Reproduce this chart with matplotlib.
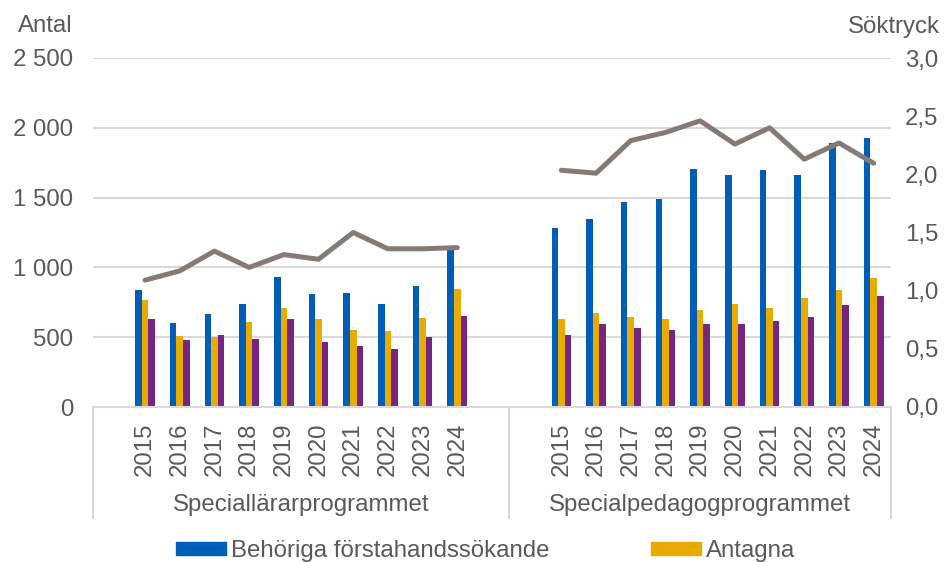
import numpy as np
import matplotlib.pyplot as plt
from matplotlib.patches import Patch

plt.rcParams['font.family'] = ['Liberation Sans', 'DejaVu Sans']

years = ['2015', '2016', '2017', '2018', '2019', '2020', '2021', '2022', '2023', '2024']
groups = ['Speciallärarprogrammet', 'Specialpedagogprogrammet']

# Speciallärarprogrammet
sl_behoriga = [841, 600, 669, 736, 931, 807, 819, 740, 867, 1125]
sl_antagna = [769, 512, 500, 612, 710, 633, 548, 545, 640, 845]
sl_tredje = [631, 483, 519, 490, 631, 469, 436, 417, 498, 650]
sl_soktryck = [1.09, 1.17, 1.34, 1.20, 1.31, 1.27, 1.50, 1.36, 1.36, 1.37]

# Specialpedagogprogrammet
sp_behoriga = [1283, 1350, 1467, 1493, 1705, 1664, 1695, 1660, 1888, 1926]
sp_antagna = [628, 671, 643, 633, 695, 738, 707, 779, 836, 921]
sp_tredje = [514, 595, 564, 550, 593, 593, 614, 643, 729, 795]
sp_soktryck = [2.035, 2.01, 2.29, 2.36, 2.46, 2.26, 2.40, 2.13, 2.27, 2.095]

left_ticks = [0, 500, 1000, 1500, 2000, 2500]
left_labels = ['0', '500', '1 000', '1 500', '2 000', '2 500']
right_ticks = [0, 0.5, 1.0, 1.5, 2.0, 2.5, 3.0]
right_labels = ['0,0', '0,5', '1,0', '1,5', '2,0', '2,5', '3,0']

blue = '#005eb8'
yellow = '#eaab00'
purple = '#772583'
linec = '#857a77'
txt = '#595959'
gridc = '#d9d9d9'
fs = 17.3

# category slots: empty, 10 years, empty | empty, 10 years
x_left = np.arange(1, 11)
x_right = np.arange(13, 23)
x = np.concatenate([x_left, x_right])

fig = plt.figure(figsize=(9.47, 5.62), dpi=100)
ax = fig.add_axes([93 / 947, 155 / 562, 798 / 947, 349 / 562])
ax2 = ax.twinx()

w = 0.19
ax.bar(x - w, sl_behoriga + sp_behoriga, w, color=blue, zorder=2)
ax.bar(x, sl_antagna + sp_antagna, w, color=yellow, zorder=2)
ax.bar(x + w, sl_tredje + sp_tredje, w, color=purple, zorder=2)

lx = np.concatenate([x_left, [11.5], x_right])
ly = np.concatenate([sl_soktryck, [np.nan], sp_soktryck])
ax2.plot(lx, ly, color=linec, lw=3.6, solid_capstyle='round', solid_joinstyle='round')

ax.set_xlim(-0.5, 22.5)
ax.set_ylim(0, 2500)
ax2.set_ylim(0, 3.0)

ax.set_yticks(left_ticks, left_labels)
ax2.set_yticks(right_ticks, right_labels)
ax.yaxis.grid(True, color=gridc, lw=1.5)
ax.set_axisbelow(True)

ax.set_xticks(x, years + years, rotation=90)
for a in (ax, ax2):
    for s in a.spines.values():
        s.set_visible(False)
    a.tick_params(length=0, labelsize=fs, colors=txt)
ax.tick_params(axis='x', pad=11)
ax.tick_params(axis='y', pad=14)
ax2.tick_params(axis='y', pad=10)

# category axis lines
ax.plot([-0.5, 22.5], [0, 0], color=gridc, lw=1.5, clip_on=False, zorder=3)
for xd in [-0.5, 11.5, 22.5]:
    ax.plot([xd, xd], [0, -0.318], color=gridc, lw=1.5, clip_on=False,
            transform=ax.get_xaxis_transform())

ax.text(5.5, -0.281, groups[0], transform=ax.get_xaxis_transform(),
        ha='center', va='center', fontsize=fs, color=txt)
ax.text(17, -0.281, groups[1], transform=ax.get_xaxis_transform(),
        ha='center', va='center', fontsize=fs, color=txt)

fig.text(73 / 947, 1 - 26 / 562, 'Antal', ha='right', va='center', fontsize=fs, color=txt)
fig.text(940 / 947, 1 - 27 / 562, 'Söktryck', ha='right', va='center', fontsize=fs, color=txt)

handles = [Patch(color=blue), Patch(color=yellow)]
fig.legend(handles, ['Behöriga förstahandssökande', 'Antagna'], ncol=2,
           loc='center left', bbox_to_anchor=(176 / 947, 11 / 562), frameon=False,
           fontsize=fs, labelcolor=txt, handlelength=2.1, handleheight=0.5,
           handletextpad=0.2, columnspacing=4.2, borderpad=0, borderaxespad=0)

plt.savefig('out.png', dpi=100)
